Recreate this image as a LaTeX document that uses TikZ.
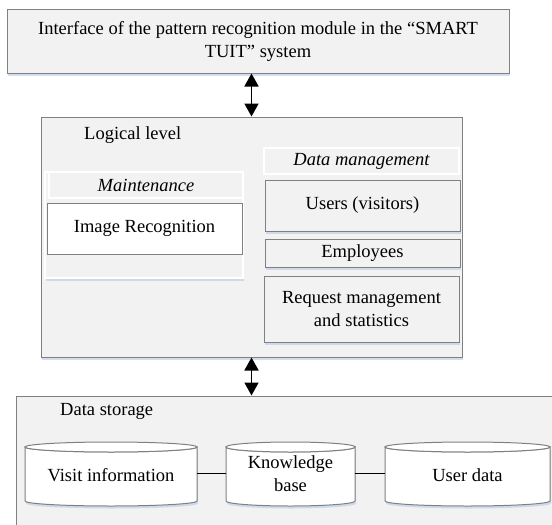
\documentclass[tikz,border=0pt]{standalone}
\usepackage{fontspec}
\setmainfont{Liberation Serif}
\usetikzlibrary{arrows.meta,shadows}

\definecolor{boxfill}{RGB}{242,242,242}
\definecolor{boxline}{RGB}{128,128,128}
\definecolor{shadowblue}{RGB}{190,208,232}

\begin{document}
\begin{tikzpicture}[x=1pt,y=1pt,yscale=-1,xscale=1,
  font=\fontsize{18.5}{23}\selectfont,
  softshadow/.style={drop shadow={shadow xshift=1pt,shadow yshift=-2.5pt,fill=shadowblue,opacity=0.7}},
  panel/.style={draw=boxline,fill=boxfill,line width=1pt,inner sep=2pt,align=center,softshadow},
  whitepanel/.style={draw=white,fill=boxfill,line width=1.2pt,inner sep=2pt,align=center,softshadow},
  whitebox/.style={draw=boxline,fill=white,line width=1pt,inner sep=2pt,align=center},
  dbarrow/.style={line width=1.8pt,arrows={Triangle[width=14pt,length=13pt]-Triangle[width=14pt,length=13pt]}},
  cyl/.style={draw=boxline,fill=white,line width=1pt},
  link/.style={draw=black,line width=0.8pt}
]
\useasboundingbox (0,0) rectangle (552,525);
\clip (0,0) rectangle (552,525);

%Interface box
\node[panel,minimum width=502pt,minimum height=64pt] (iface) at (258,41)
  {Interface of the pattern recognition module in the ``SMART\\TUIT'' system};

%Logical level
\node[panel,minimum width=421pt,minimum height=240pt] (logic) at (251.5,237) {};
\node[anchor=west,inner sep=0pt] (logtitle) at (84,135) {Logical level};

%Maintenance group
\node[whitepanel,minimum width=198pt,minimum height=106pt] (maint) at (144,225) {};
\node[draw=white,fill=boxfill,line width=1.2pt,inner sep=2pt,minimum width=194pt,minimum height=26pt] (mainthead) at (146,185) {\itshape Maintenance};
\node[whitebox,minimum width=195pt,minimum height=51pt] (imgrec) at (144.5,228.5) {Image Recognition};

%Data management group
\node[draw=white,fill=boxfill,line width=1.2pt,inner sep=2pt,minimum width=195pt,minimum height=26pt] (dmhead) at (361.5,161) {\itshape Data management};
\node[panel,minimum width=195pt,minimum height=51pt] (users) at (362.5,205.5) {Users (visitors)};
\node[panel,minimum width=195pt,minimum height=28pt] (empl) at (362.5,253) {Employees};
\node[panel,minimum width=195pt,minimum height=66pt] (request) at (361.5,309) {Request management\\and statistics};

%Data storage
\node[panel,minimum width=554pt,minimum height=150pt] (store) at (293,471) {};
\node[anchor=west,inner sep=0pt] (storetitle) at (60,411) {Data storage};

%Cylinder: visit information
\draw[cyl,softshadow] (25,447) -- (25,501) arc[start angle=180,end angle=0,x radius=86,y radius=5] -- (197,447) arc[start angle=0,end angle=180,x radius=86,y radius=5] -- cycle;
\draw[cyl] (111,447) ellipse[x radius=86,y radius=5];
%Cylinder: knowledge base
\draw[cyl,softshadow] (226,447) -- (226,501) arc[start angle=180,end angle=0,x radius=64.5,y radius=5] -- (355,447) arc[start angle=0,end angle=180,x radius=64.5,y radius=5] -- cycle;
\draw[cyl] (290.5,447) ellipse[x radius=64.5,y radius=5];
%Cylinder: user data
\draw[cyl,softshadow] (385,447) -- (385,501) arc[start angle=180,end angle=0,x radius=82.5,y radius=5] -- (550,447) arc[start angle=0,end angle=180,x radius=82.5,y radius=5] -- cycle;
\draw[cyl] (467.5,447) ellipse[x radius=82.5,y radius=5];

\node[align=center] (visit) at (111,475) {Visit information};
\node[align=center] (know) at (290.5,474) {Knowledge\\base};
\node[align=center] (udata) at (467.5,475) {User data};

\coordinate (visitE) at (197,473);
\coordinate (knowW) at (226,473);
\coordinate (knowE) at (355,473);
\coordinate (udataW) at (385,473);

% Connectors
\draw[link] (visitE) -- (knowW);
\draw[link] (knowE) -- (udataW);
\draw[dbarrow] (iface.south -| logic.north) -- (logic.north);
\draw[dbarrow] (logic.south) -- (logic.south |- store.north);
\end{tikzpicture}
\end{document}
